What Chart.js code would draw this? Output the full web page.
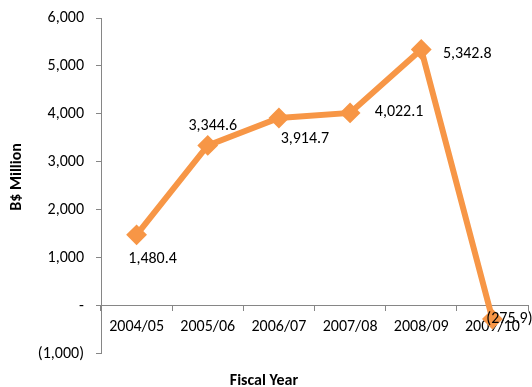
<!DOCTYPE html>
<html>
<head>
<meta charset="utf-8">
<script src="https://cdn.jsdelivr.net/npm/chart.js@4/dist/chart.umd.min.js"></script>
<style>
  html, body { margin: 0; padding: 0; background: #fff; }
  #wrap { width: 532px; height: 387px; }
</style>
</head>
<body>
<div id="wrap"><canvas id="netChart"></canvas></div>
<script>
// 年度ごとの値 (B$ Million)
const years = ['2004/05', '2005/06', '2006/07', '2007/08', '2008/09', '2009/10'];
const values = [1480.4, 3344.6, 3914.7, 4022.1, 5342.8, -275.9];
const yTicks = [-1000, 0, 1000, 2000, 3000, 4000, 5000, 6000];

const orange = '#F79646';
const axisGray = '#868686';
const fontFamily = "Carlito, Calibri, Lato, 'Liberation Sans', sans-serif";

// 会計書式: 0 は "-"、負数は括弧
function fmt(v, digits) {
    if (v === 0) return '-';
    const s = Math.abs(v).toLocaleString('en-US', { minimumFractionDigits: digits, maximumFractionDigits: digits });
    return v < 0 ? '(' + s + ')' : s;
}

// ラベル位置 (点からのずれ)
const labelOffsets = [[16, 24], [5, -19], [26, 21], [49, -1], [46, 4], [17, 0]];

const valueLabels = {
    id: 'valueLabels',
    afterDatasetsDraw(chart) {
        const ctx = chart.ctx;
        const meta = chart.getDatasetMeta(0);
        ctx.save();
        ctx.font = '16px ' + fontFamily;
        ctx.fillStyle = '#000';
        ctx.textAlign = 'center';
        ctx.textBaseline = 'middle';
        meta.data.forEach((pt, i) => {
            const [dx, dy] = labelOffsets[i];
            ctx.fillText(fmt(values[i], 1), pt.x + dx, pt.y + dy);
        });
        ctx.restore();
    }
};

// 縦軸タイトル (少し上寄せ)
const yTitle = {
    id: 'yTitle',
    afterDraw(chart) {
        const ctx = chart.ctx;
        const area = chart.chartArea;
        ctx.save();
        ctx.translate(17, (area.top + area.bottom) / 2 - 9);
        ctx.rotate(-Math.PI / 2);
        ctx.font = 'bold 16px ' + fontFamily;
        ctx.fillStyle = '#000';
        ctx.textAlign = 'center';
        ctx.textBaseline = 'middle';
        ctx.fillText('B$ Million', 0, 0);
        ctx.restore();
    }
};

new Chart(document.getElementById('netChart'), {
    type: 'line',
    data: {
        labels: years,
        datasets: [{
            data: values,
            borderColor: orange,
            backgroundColor: orange,
            borderWidth: 6,
            pointStyle: 'rectRot',
            pointRadius: 9,
            pointBorderWidth: 2,
            pointBackgroundColor: orange,
            pointBorderColor: orange,
            tension: 0,
            clip: false
        }]
    },
    options: {
        responsive: true,
        maintainAspectRatio: false,
        animation: false,
        layout: { autoPadding: false, padding: { top: 18, right: 4, bottom: 0, left: 0 } },
        plugins: {
            legend: { display: false },
            tooltip: { enabled: false },
            title: {
                display: true,
                position: 'bottom',
                text: 'Fiscal Year',
                color: '#000',
                font: { family: fontFamily, size: 16, weight: 'bold' },
                padding: { top: 18, bottom: -4 }
            }
        },
        scales: {
            x: {
                type: 'category',
                position: { y: 0 },
                offset: true,
                afterFit(scale) {
                    scale.paddingLeft = 0;
                    scale.paddingRight = 0;
                },
                grid: {
                    offset: true,
                    drawOnChartArea: false,
                    drawTicks: true,
                    tickLength: 5,
                    color: axisGray
                },
                border: { display: true, color: axisGray, width: 1 },
                ticks: {
                    color: '#000',
                    padding: 7,
                    maxRotation: 0,
                    autoSkip: false,
                    font: { family: fontFamily, size: 16 }
                }
            },
            y: {
                min: -1000,
                max: 6000,
                afterBuildTicks(scale) {
                    scale.ticks = yTicks.map(v => ({ value: v }));
                },
                afterFit(scale) {
                    scale.width = 101;
                    scale.paddingTop = 0;
                    scale.paddingBottom = 0;
                },
                grid: {
                    drawOnChartArea: false,
                    drawTicks: true,
                    tickLength: 5,
                    color: axisGray
                },
                border: { display: true, color: axisGray, width: 1 },
                ticks: {
                    color: '#000',
                    padding: 12,
                    font: { family: fontFamily, size: 16 },
                    callback: v => fmt(v, 0)
                }
            }
        }
    },
    plugins: [valueLabels, yTitle]
});
</script>
</body>
</html>
